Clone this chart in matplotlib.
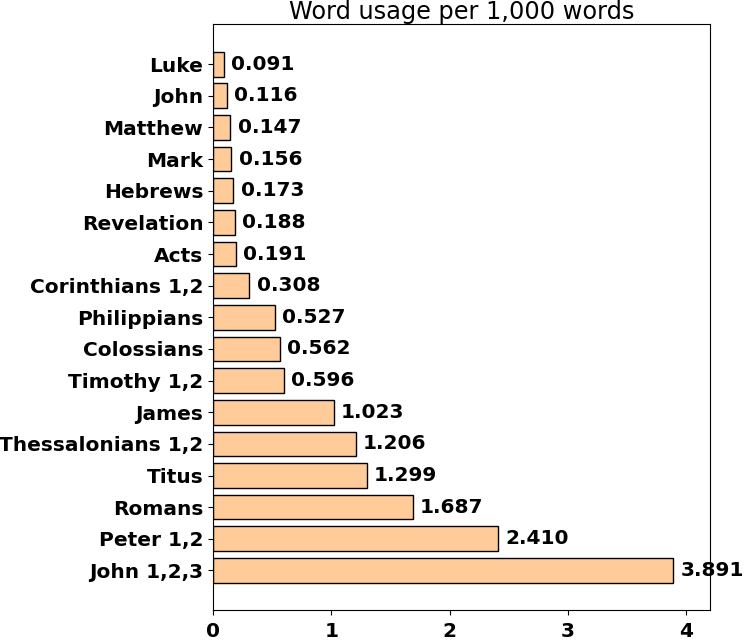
import matplotlib
matplotlib.use('Agg')
import matplotlib.pyplot as plt

books = ['John 1,2,3', 'Peter 1,2', 'Romans', 'Titus', 'Thessalonians 1,2',
         'James', 'Timothy 1,2', 'Colossians', 'Philippians', 'Corinthians 1,2',
         'Acts', 'Revelation', 'Hebrews', 'Mark', 'Matthew', 'John', 'Luke']
usage = [3.891, 2.410, 1.687, 1.299, 1.206, 1.023, 0.596, 0.562, 0.527,
         0.308, 0.191, 0.188, 0.173, 0.156, 0.147, 0.116, 0.091]

fig = plt.figure(figsize=(7.44, 6.4), dpi=100)
ax = fig.add_axes([0.2863, 0.0469, 0.668, 0.9156])

ypos = range(len(books))
ax.barh(ypos, usage, height=0.78, color='#ffcc99', edgecolor='black', linewidth=1)
for y, v in zip(ypos, usage):
    ax.text(v + 0.06, y, f'{v:.3f}', va='center', ha='left',
            fontsize=14.5, fontweight='bold')

ax.set_yticks(list(ypos))
ax.set_yticklabels(books, fontsize=14.5, fontweight='bold')
ax.set_xticks([0, 1, 2, 3, 4])
ax.set_xticklabels(['0', '1', '2', '3', '4'], fontsize=14.5, fontweight='bold')
ax.tick_params(axis='x', pad=5)
ax.set_xlim(0, 4.2)
ax.set_ylim(-1.25, len(books) - 1 + 1.27)
ax.set_title('Word usage per 1,000 words', fontsize=17.3, pad=2)

fig.savefig('out.png', dpi=100)
